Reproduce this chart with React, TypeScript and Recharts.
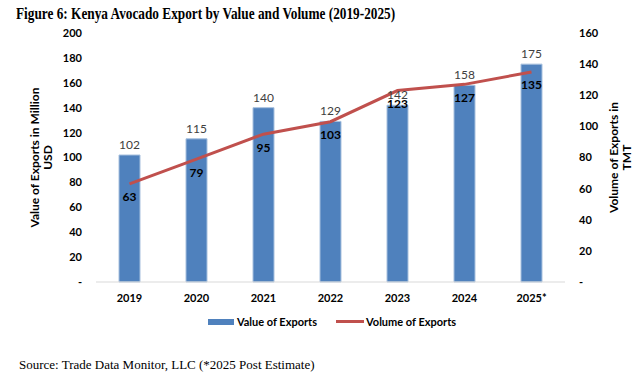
import React from "react"
import {
  ComposedChart,
  Bar,
  Line,
  XAxis,
  YAxis,
  LabelList,
  Legend
} from "recharts"

const years = ["2019", "2020", "2021", "2022", "2023", "2024", "2025*"]
const valueOfExports = [102, 115, 140, 129, 142, 158, 175]
const volumeOfExports = [63, 79, 95, 103, 123, 127, 135]
const valueTicks = [0, 20, 40, 60, 80, 100, 120, 140, 160, 180, 200]
const volumeTicks = [0, 20, 40, 60, 80, 100, 120, 140, 160]

const data = years.map((year, i) => ({
  year,
  value: valueOfExports[i],
  volume: volumeOfExports[i]
}))

const FONT = "Lato, 'Open Sans', sans-serif"
const BLUE = "#4F81BD"
const RED = "#C0504D"

const tickFmt = (v: number) => (v === 0 ? "-" : String(v))

function AxisTitle(props: any) {
  const { viewBox, lines, x1, x2 } = props
  const cy = viewBox.y + viewBox.height / 2
  return (
    <g fontFamily={FONT} fontWeight="bold" fontSize={12} fill="#000">
      <text x={viewBox.x + x1} y={cy} textAnchor="middle" dominantBaseline="central"
        transform={`rotate(-90 ${viewBox.x + x1} ${cy})`}>{lines[0]}</text>
      <text x={viewBox.x + x2} y={cy} textAnchor="middle" dominantBaseline="central"
        transform={`rotate(-90 ${viewBox.x + x2} ${cy})`}>{lines[1]}</text>
    </g>
  )
}

function LegendBox() {
  return (
    <div style={{ display: "flex", justifyContent: "center", alignItems: "center",
      fontFamily: FONT, fontWeight: "bold", fontSize: 11, color: "#000", paddingLeft: 22 }}>
      <span style={{ width: 26, height: 6, background: BLUE, marginRight: 3 }} />
      <span style={{ marginRight: 19 }}>Value of Exports</span>
      <span style={{ width: 28, height: 3, background: RED, marginRight: 2 }} />
      <span>Volume of Exports</span>
    </div>
  )
}

export default function App() {
  return (
    <div style={{ position: "absolute", left: 0, top: 0, width: 642, height: 376, background: "#fff" }}>
      <div style={{ position: "absolute", left: 16, top: 5, fontFamily: "'Liberation Serif', 'Times New Roman', serif",
        fontWeight: "bold", fontSize: 16, color: "#000", whiteSpace: "nowrap",
        transform: "scaleX(0.83)", transformOrigin: "left top" }}>
        Figure 6: Kenya Avocado Export by Value and Volume (2019-2025)
      </div>
      <ComposedChart
        width={642}
        height={340}
        data={data}
        margin={{ top: 33, right: 0, bottom: 15, left: 0 }}
        barSize={21}
      >
        <XAxis
          dataKey="year"
          tickLine={false}
          axisLine={{ stroke: "#D9D9D9" }}
          tick={{ fontFamily: FONT, fontWeight: "bold", fontSize: 11, fill: "#000" }}
          tickMargin={6}
          height={30}
          interval={0}
        />
        <YAxis
          yAxisId="left"
          domain={[0, 200]}
          ticks={valueTicks}
          tickFormatter={tickFmt}
          width={96}
          tickLine={false}
          axisLine={false}
          tickMargin={8}
          tick={{ fontFamily: FONT, fontWeight: "bold", fontSize: 11, fill: "#000" }}
          label={{ content: (p: any) => <AxisTitle {...p} lines={["Value of Exports in Million", "USD"]} x1={34} x2={47} /> }}
        />
        <YAxis
          yAxisId="right"
          orientation="right"
          domain={[0, 160]}
          ticks={volumeTicks}
          tickFormatter={tickFmt}
          width={77}
          tickLine={false}
          axisLine={false}
          tickMargin={8}
          tick={{ fontFamily: FONT, fontWeight: "bold", fontSize: 11, fill: "#000", textAnchor: "start" }}
          label={{ content: (p: any) => <AxisTitle {...p} lines={["Volume of Exports in", "TMT"]} x1={48} x2={61} /> }}
        />
        <Legend
          verticalAlign="bottom"
          content={() => <LegendBox />}
          wrapperStyle={{ position: "absolute", left: 0, top: 315, width: 642 }}
        />
        <Bar yAxisId="left" dataKey="value" name="Value of Exports" fill={BLUE}
          stroke="#A7C0DE" strokeWidth={1} isAnimationActive={false}>
          <LabelList dataKey="value" position="top" offset={6}
            style={{ fontFamily: FONT, fontSize: 12, fill: "#404040" }} />
        </Bar>
        <Line yAxisId="right" dataKey="volume" name="Volume of Exports" type="linear"
          stroke={RED} strokeWidth={3} dot={false} isAnimationActive={false}>
          <LabelList dataKey="volume" position="bottom" offset={9}
            style={{ fontFamily: FONT, fontWeight: "bold", fontSize: 12, fill: "#000" }} />
        </Line>
      </ComposedChart>
      <div style={{ position: "absolute", left: 19, top: 357, fontFamily: "'Liberation Serif', 'Times New Roman', serif",
        fontSize: 13, color: "#000", whiteSpace: "nowrap" }}>
        Source: Trade Data Monitor, LLC (*2025 Post Estimate)
      </div>
    </div>
  )
}
